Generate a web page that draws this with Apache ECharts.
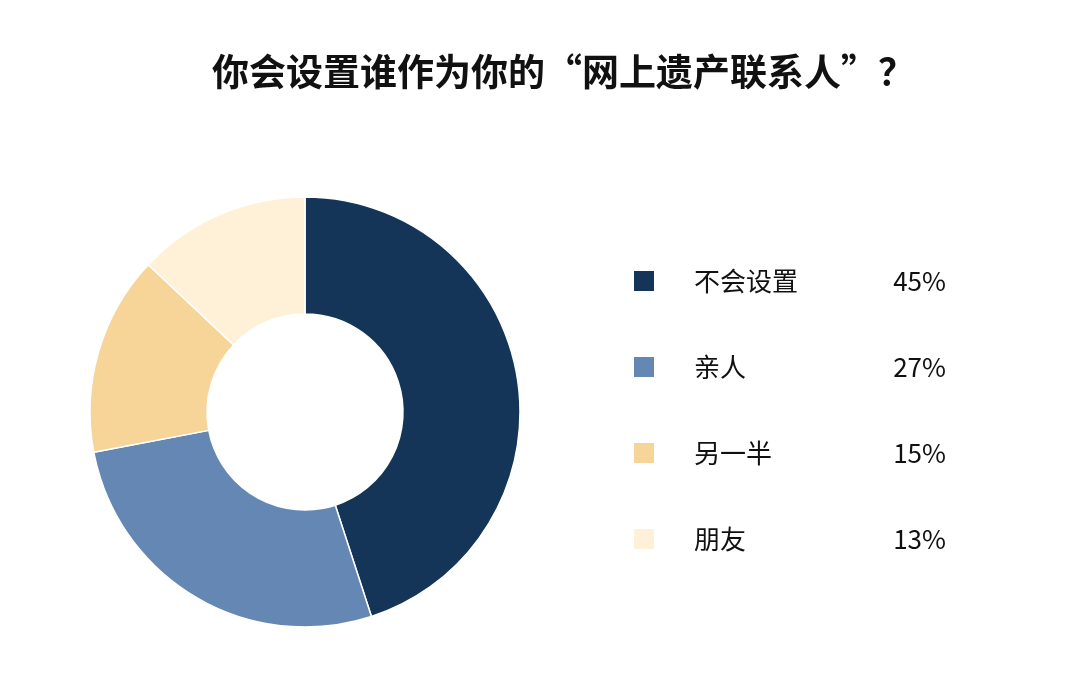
<!DOCTYPE html>
<html>
<head>
<meta charset="utf-8">
<script src="https://cdn.jsdelivr.net/npm/echarts@6/dist/echarts.min.js"></script>
<style>
  html, body { margin: 0; padding: 0; background: #fff; }
  #main { width: 1080px; height: 689px; }
</style>
</head>
<body>
<div id="main"></div>
<script>
var names = ['不会设置', '亲人', '另一半', '朋友'];
var values = [45, 27, 15, 13];
var colors = ['#143557', '#6487b3', '#f7d498', '#fff1d8'];

var font = '"Noto Sans CJK SC", "Noto Sans", sans-serif';

var data = names.map(function (n, i) {
    return { name: n, value: values[i], itemStyle: { color: colors[i] } };
});

var myChart = echarts.init(document.getElementById('main'));
myChart.setOption({
    backgroundColor: '#ffffff',
    animation: false,
    title: {
        text: '你会设置谁作为你的“网上遗产联系人”？',
        left: 212,
        top: 53,
        padding: 0,
        textStyle: {
            fontFamily: font,
            fontSize: 37,
            fontWeight: 'bold',
            color: '#111111'
        }
    },
    legend: {
        orient: 'vertical',
        left: 632,
        top: 268,
        padding: 0,
        itemWidth: 22,
        itemHeight: 22,
        itemGap: 60,
        icon: 'rect',
        selectedMode: false,
        formatter: function (name) {
            var i = names.indexOf(name);
            return '{n|' + name + '}{v|' + values[i] + '%}';
        },
        textStyle: {
            fontFamily: font,
            fontSize: 26,
            color: '#111111',
            rich: {
                n: { fontFamily: font, fontSize: 26, color: '#111111', width: 192, padding: [0, 0, 0, 34], lineHeight: 22 },
                v: { fontFamily: font, fontSize: 26, color: '#111111', width: 60, align: 'right', lineHeight: 22 }
            }
        }
    },
    series: [{
        type: 'pie',
        center: [305, 412],
        radius: [98, 215],
        startAngle: 90,
        clockwise: true,
        label: { show: false },
        labelLine: { show: false },
        emphasis: { disabled: true },
        itemStyle: { borderColor: '#ffffff', borderWidth: 1.5 },
        data: data
    }]
});
</script>
</body>
</html>
